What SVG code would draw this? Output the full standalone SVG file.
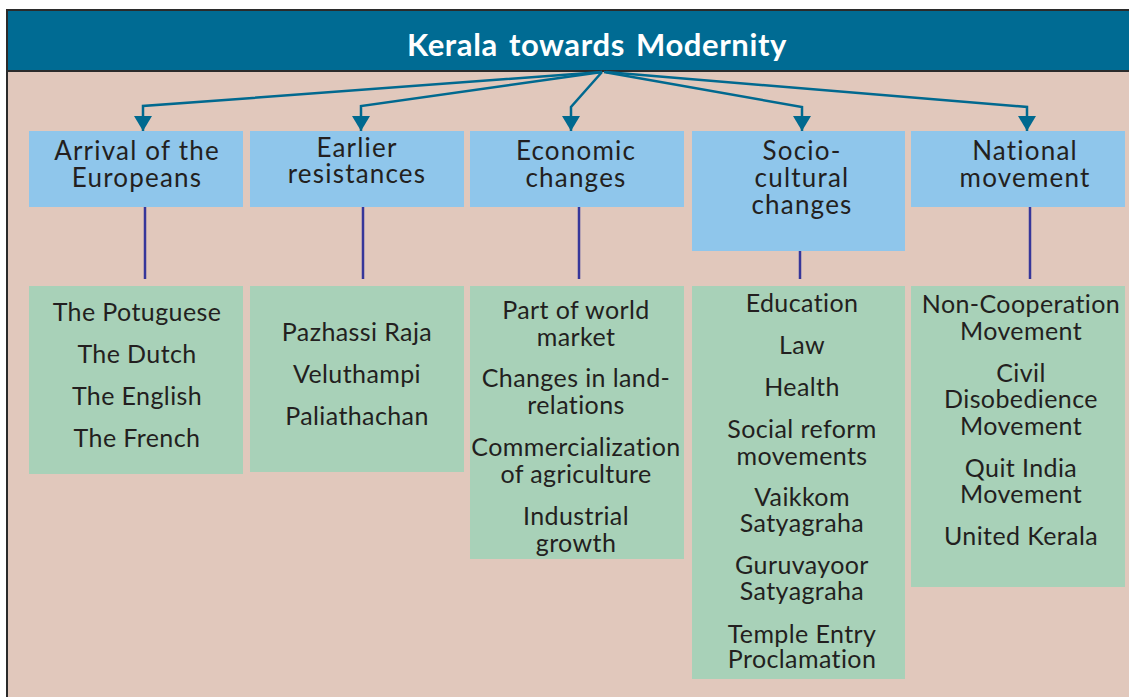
<svg xmlns="http://www.w3.org/2000/svg" width="1129" height="697" viewBox="0 0 1129 697">
<defs>
<marker id="ah" markerUnits="userSpaceOnUse" markerWidth="15" markerHeight="18" refX="15" refY="9" orient="auto" viewBox="0 0 15 18">
<path d="M0,0 L15,9 L0,18 Z" fill="#00698f"/>
</marker>
</defs>
<style>
.head{fill:#8fc6eb}
.item{fill:#a8d1b8}
.ht{font-family:Lato,"Liberation Sans",sans-serif;font-size:26px;fill:#231f20;text-anchor:middle;letter-spacing:1.2px}
.it{font-family:Lato,"Liberation Sans",sans-serif;font-size:25px;fill:#231f20;text-anchor:middle;letter-spacing:0.4px}
.arr{fill:none;stroke:#00698f;stroke-width:2.5;marker-end:url(#ah)}
.vl{stroke:#36369a;stroke-width:2.5}
</style>
<rect x="0" y="0" width="1129" height="697" fill="#ffffff"/>
<rect x="7" y="10" width="1130" height="700" fill="#e1c8bc" stroke="#2b2b2b" stroke-width="2"/>
<g id="title">
<rect x="7" y="10" width="1130" height="61" fill="#006b93" stroke="#2b2b2b" stroke-width="2"/>
<text x="597" y="56" font-family="Lato,'Liberation Sans',sans-serif" font-size="31" font-weight="bold" fill="#ffffff" text-anchor="middle" letter-spacing="0.6" word-spacing="3">Kerala towards Modernity</text>
</g>
<g id="connectors">
<path class="arr" d="M602,72 L143,106 L143,131"/>
<path class="arr" d="M602,72 L361,106 L361,131"/>
<path class="arr" d="M602,72 L571,107 L571,131"/>
<path class="arr" d="M604,72 L802,107 L802,131"/>
<path class="arr" d="M606,72 L1027,107 L1027,131"/>
<line class="vl" x1="145" y1="207" x2="145" y2="279"/>
<line class="vl" x1="363" y1="207" x2="363" y2="279"/>
<line class="vl" x1="579" y1="207" x2="579" y2="279"/>
<line class="vl" x1="800" y1="251" x2="800" y2="279"/>
<line class="vl" x1="1030" y1="207" x2="1030" y2="279"/>
</g>
<g id="h1">
<rect class="head" x="29" y="131" width="214" height="76"/>
<text class="ht" x="137" y="160">Arrival of the</text>
<text class="ht" x="137" y="187">Europeans</text>
</g>
<g id="h2">
<rect class="head" x="250" y="131" width="214" height="76"/>
<text class="ht" x="357" y="157">Earlier</text>
<text class="ht" x="357" y="183">resistances</text>
</g>
<g id="h3">
<rect class="head" x="470" y="131" width="214" height="76"/>
<text class="ht" x="576" y="160">Economic</text>
<text class="ht" x="576" y="187">changes</text>
</g>
<g id="h4">
<rect class="head" x="692" y="131" width="213" height="120"/>
<text class="ht" x="802" y="160">Socio-</text>
<text class="ht" x="802" y="187">cultural</text>
<text class="ht" x="802" y="214">changes</text>
</g>
<g id="h5">
<rect class="head" x="911" y="131" width="214" height="76"/>
<text class="ht" x="1025" y="160">National</text>
<text class="ht" x="1025" y="187">movement</text>
</g>
<g id="g1">
<rect class="item" x="29" y="286" width="214" height="188"/>
<text class="it" x="137" y="321">The Potuguese</text>
<text class="it" x="137" y="363">The Dutch</text>
<text class="it" x="137" y="405">The English</text>
<text class="it" x="137" y="447">The French</text>
</g>
<g id="g2">
<rect class="item" x="250" y="286" width="214" height="186"/>
<text class="it" x="357" y="341">Pazhassi Raja</text>
<text class="it" x="357" y="383">Veluthampi</text>
<text class="it" x="357" y="425">Paliathachan</text>
</g>
<g id="g3">
<rect class="item" x="470" y="286" width="214" height="273"/>
<text class="it" x="576" y="319">Part of world</text>
<text class="it" x="576" y="346">market</text>
<text class="it" x="576" y="387">Changes in land-</text>
<text class="it" x="576" y="414">relations</text>
<text class="it" x="576" y="456">Commercialization</text>
<text class="it" x="576" y="483">of agriculture</text>
<text class="it" x="576" y="525">Industrial</text>
<text class="it" x="576" y="552">growth</text>
</g>
<g id="g4">
<rect class="item" x="692" y="286" width="213" height="393"/>
<text class="it" x="802" y="312">Education</text>
<text class="it" x="802" y="354">Law</text>
<text class="it" x="802" y="396">Health</text>
<text class="it" x="802" y="438">Social reform</text>
<text class="it" x="802" y="465">movements</text>
<text class="it" x="802" y="506">Vaikkom</text>
<text class="it" x="802" y="532">Satyagraha</text>
<text class="it" x="802" y="574">Guruvayoor</text>
<text class="it" x="802" y="600">Satyagraha</text>
<text class="it" x="802" y="643">Temple Entry</text>
<text class="it" x="802" y="668">Proclamation</text>
</g>
<g id="g5">
<rect class="item" x="911" y="286" width="214" height="301"/>
<text class="it" x="1021" y="313">Non-Cooperation</text>
<text class="it" x="1021" y="340">Movement</text>
<text class="it" x="1021" y="382">Civil</text>
<text class="it" x="1021" y="408">Disobedience</text>
<text class="it" x="1021" y="435">Movement</text>
<text class="it" x="1021" y="477">Quit India</text>
<text class="it" x="1021" y="503">Movement</text>
<text class="it" x="1021" y="545">United Kerala</text>
</g>
</svg>
